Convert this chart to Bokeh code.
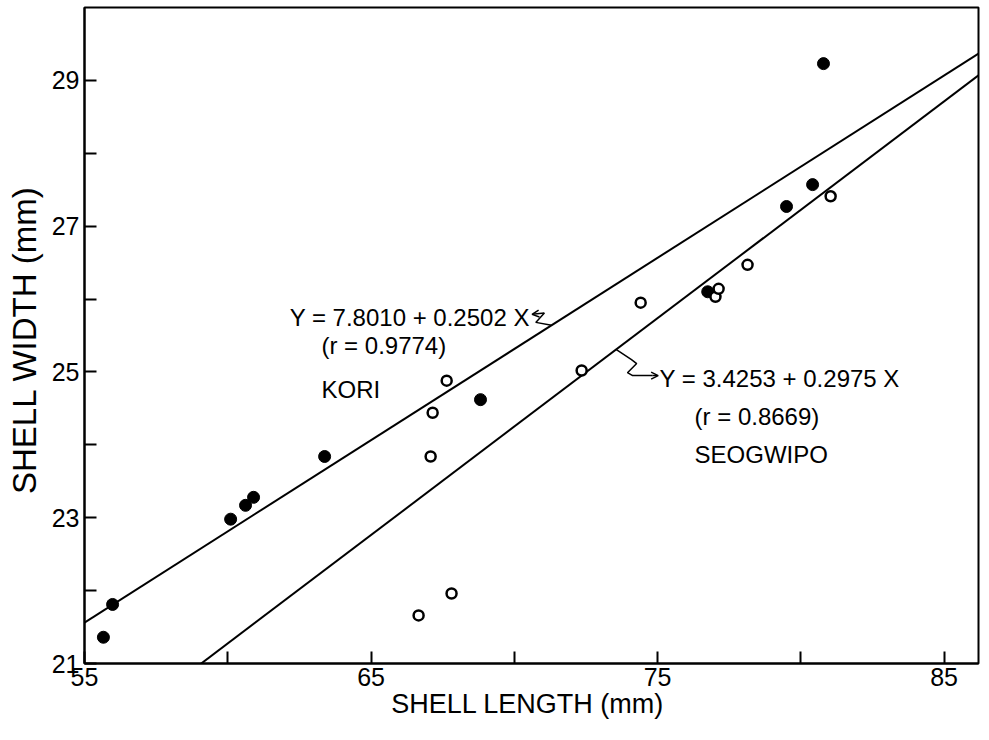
from bokeh.plotting import figure
from bokeh.models import FixedTicker, Label, Arrow, OpenHead, Range1d
from bokeh.embed import file_html
from bokeh.resources import INLINE

# ---- data ----
kori_length = [55.66, 55.98, 60.10, 60.62, 60.90, 63.38, 68.82, 76.75, 79.50, 80.41, 80.79]
kori_width = [21.36, 21.81, 22.98, 23.17, 23.28, 23.84, 24.62, 26.10, 27.27, 27.57, 29.23]

seog_length = [66.66, 67.81, 67.08, 67.15, 67.64, 72.35, 74.41, 77.02, 77.13, 78.14, 81.04]
seog_width = [21.66, 21.96, 23.84, 24.44, 24.88, 25.02, 25.95, 26.03, 26.14, 26.47, 27.41]

kori_a, kori_b = 7.8010, 0.2502
seog_a, seog_b = 3.4253, 0.2975

x_major = [55, 65, 75, 85]
x_minor = [60, 70, 80]
y_major = [21, 23, 25, 27, 29]
y_minor = [22, 24, 26, 28]

X0, X1 = 55, 86.2
Y0, Y1 = 21, 30.0

FONT = "Liberation Sans"

p = figure(frame_width=894, frame_height=656, output_backend="svg", toolbar_location=None,
           x_range=Range1d(X0, X1), y_range=Range1d(Y0, Y1),
           min_border_left=84, min_border_top=7, min_border_right=2, min_border_bottom=55)
p.background_fill_color = "white"
p.border_fill_color = "white"
p.grid.visible = False
p.outline_line_color = "black"
p.outline_line_width = 2

for ax in (p.xaxis[0], p.yaxis[0]):
    ax.axis_line_width = 2
    ax.axis_line_color = "black"
    ax.major_tick_in = 12
    ax.major_tick_out = 0
    ax.minor_tick_in = 12
    ax.minor_tick_out = 0
    ax.major_tick_line_width = 2
    ax.minor_tick_line_width = 2
    ax.major_tick_line_color = "black"
    ax.minor_tick_line_color = "black"
    ax.major_label_text_font = FONT
    ax.major_label_text_font_size = "25px"
    ax.major_label_text_color = "black"
    ax.axis_label_text_font = FONT
    ax.axis_label_text_font_style = "normal"
    ax.axis_label_text_color = "black"

p.xaxis[0].ticker = FixedTicker(ticks=x_major, minor_ticks=x_minor)
p.yaxis[0].ticker = FixedTicker(ticks=y_major, minor_ticks=y_minor)
p.xaxis[0].major_label_standoff = 4
p.yaxis[0].major_label_standoff = 5
p.xaxis[0].axis_label = "SHELL  LENGTH (mm)"
p.yaxis[0].axis_label = "SHELL  WIDTH (mm)"
p.xaxis[0].axis_label_text_font_size = "27px"
p.yaxis[0].axis_label_text_font_size = "33px"
p.xaxis[0].axis_label_standoff = 0
p.yaxis[0].axis_label_standoff = 6

# regression lines
xs = [X0, X1]
p.line(xs, [kori_a + kori_b * x for x in xs], line_color="black", line_width=2)
p.line(xs, [seog_a + seog_b * x for x in xs], line_color="black", line_width=2)

# points
p.scatter(kori_length, kori_width, size=12, marker="circle", fill_color="black", line_color="black")
p.scatter(seog_length, seog_width, size=10, marker="circle", fill_color="white",
          line_color="black", line_width=2.5)

# annotation squiggles
p.line([71.05, 70.75, 71.3], [25.81, 25.68, 25.64], line_color="black", line_width=1.5)
p.add_layout(Arrow(x_start=71.05, y_start=25.81, x_end=70.62, y_end=25.79,
                   line_width=1.5, end=OpenHead(size=7, line_width=1.5)))
p.line([73.55, 74.09, 74.27, 73.95, 74.13, 74.83], [25.31, 25.17, 25.115, 24.99, 24.95, 24.95],
       line_color="black", line_width=1.5)
p.add_layout(Arrow(x_start=74.83, y_start=24.95, x_end=75.02, y_end=24.95,
                   line_width=1.5, end=OpenHead(size=7, line_width=1.5)))

def lab(x, y, t):
    p.add_layout(Label(x=x, y=y, text=t, text_font=FONT, text_font_size="24px",
                       text_align="left", text_baseline="middle", text_color="black"))

lab(62.16, 25.75, "Y = 7.8010 + 0.2502 X")
lab(63.27, 25.36, "(r = 0.9774)")
lab(63.27, 24.76, "KORI")
lab(75.07, 24.91, "Y = 3.4253 + 0.2975 X")
lab(76.29, 24.39, "(r = 0.8669)")
lab(76.29, 23.87, "SEOGWIPO")

open("out.html", "w").write(file_html(p, INLINE))
